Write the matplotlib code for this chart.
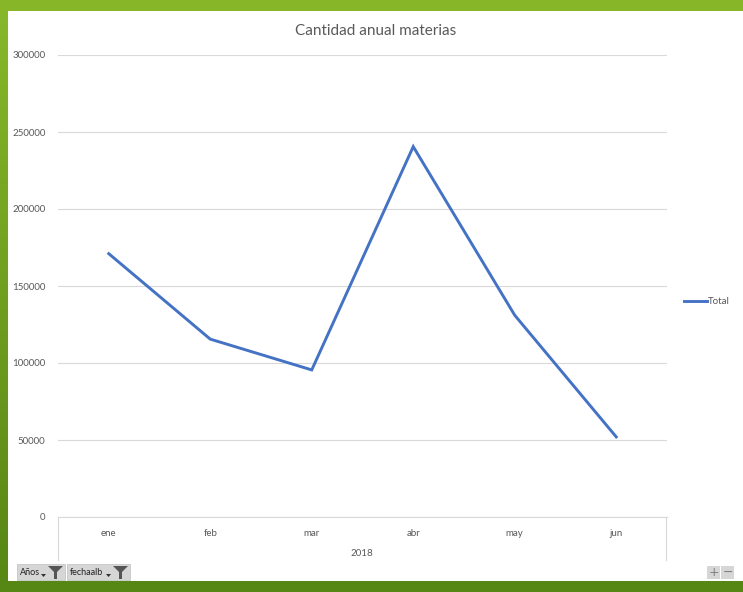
import matplotlib
matplotlib.use("Agg")
import matplotlib.pyplot as plt
import numpy as np
from matplotlib.patches import Rectangle, Polygon

# data
meses = ["ene", "feb", "mar", "abr", "may", "jun"]
total = [171000, 115500, 95500, 240500, 131000, 52000]
anio = "2018"
yticks = [0, 50000, 100000, 150000, 200000, 250000, 300000]

W, H = 743, 592
plt.rcParams['font.family'] = ['Lato', 'DejaVu Sans']

fig = plt.figure(figsize=(W / 100, H / 100), dpi=100)

# green background gradient
bg = fig.add_axes([0, 0, 1, 1])
top = np.array([136, 184, 42]) / 255
bot = np.array([86, 134, 20]) / 255
t = np.linspace(0, 1, 256)[:, None]
grad = top * (1 - t) + bot * t
bg.imshow(grad[:, None, :].repeat(2, axis=1), aspect="auto", extent=[0, 1, 0, 1])
bg.set_xlim(0, 1)
bg.set_ylim(0, 1)
bg.axis("off")


def fx(px):
    return px / W


def fy(py):
    return 1 - py / H


# white chart area
bg.add_patch(Rectangle((fx(8), fy(581)), fx(W) - fx(8), fy(11) - fy(581),
                       facecolor="white", edgecolor="none"))

ax = fig.add_axes([fx(58), fy(517), fx(667) - fx(58), fy(55) - fy(517)])
x = np.arange(len(meses))
ax.plot(x, total, color="#4472C4", linewidth=2.1, solid_joinstyle="miter", label="Total")
ax.set_xlim(-0.5, len(meses) - 0.5)
ax.set_ylim(0, 300000)
ax.set_yticks(yticks)
ax.set_yticklabels([str(v) for v in yticks], fontsize=7, color="#595959")
ax.yaxis.grid(True, color="#d9d9d9", linewidth=0.8)
ax.set_axisbelow(True)
ax.tick_params(axis="y", length=0, pad=9)
ax.set_xticks(x)
ax.set_xticklabels(meses, fontsize=7, color="#595959")
ax.tick_params(axis="x", length=0, pad=9)
for s in ["top", "right", "left"]:
    ax.spines[s].set_visible(False)
ax.spines["bottom"].set_color("#d9d9d9")
ax.set_facecolor("none")

# category group frame and year label
for px in (58, 666):
    bg.plot([fx(px), fx(px)], [fy(517), fy(560)], color="#d9d9d9", linewidth=0.8)
fig.text(fx(362), fy(553), anio, fontsize=7, color="#595959", ha="center", va="center")

fig.text(fx(376), fy(31), "Cantidad anual materias", fontsize=11, color="#595959",
         ha="center", va="center")

# legend
bg.plot([fx(684), fx(707)], [fy(301), fy(301)], color="#4472C4", linewidth=2.1)
fig.text(fx(708), fy(301), "Total", fontsize=7, color="#595959", ha="left", va="center")


# filter buttons
def boton(x0, x1, label):
    bg.add_patch(Rectangle((fx(x0), fy(580)), fx(x1) - fx(x0), fy(564) - fy(580),
                           facecolor="#d6d6d6", edgecolor="#c0c0c0", linewidth=0.5))
    fig.text(fx(x0 + 3), fy(572.5), label, fontsize=6.5, color="#222222",
             ha="left", va="center")
    # dropdown arrow
    ax0 = x1 - 24
    bg.add_patch(Polygon([(fx(ax0), fy(574)), (fx(ax0 + 5), fy(574)), (fx(ax0 + 2.5), fy(577))],
                         closed=True, facecolor="#333333", edgecolor="none"))
    # funnel
    f0 = x1 - 17
    bg.add_patch(Polygon([(fx(f0), fy(566)), (fx(f0 + 15), fy(566)), (fx(f0 + 9), fy(572)),
                          (fx(f0 + 9), fy(579)), (fx(f0 + 6), fy(579)), (fx(f0 + 6), fy(572))],
                         closed=True, facecolor="#555555", edgecolor="none"))


boton(17, 65, "Años")
boton(67, 130, "fechaalb")

# zoom buttons
for x0, sym in ((707, "+"), (721, "\u2212")):
    bg.add_patch(Rectangle((fx(x0), fy(579)), fx(13), fy(566) - fy(579),
                           facecolor="#d6d6d6", edgecolor="none"))
    fig.text(fx(x0 + 6.5), fy(572.5), sym, fontsize=9, color="#808080",
             ha="center", va="center", family=["DejaVu Sans"])

fig.savefig("out.png", dpi=100)
